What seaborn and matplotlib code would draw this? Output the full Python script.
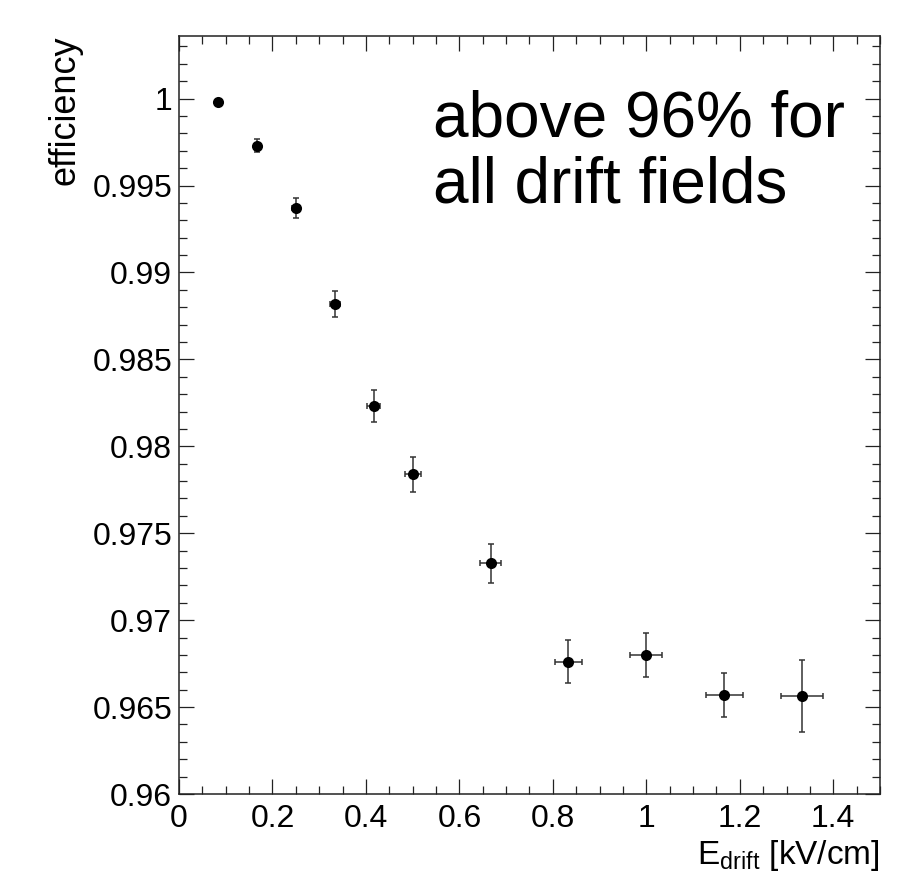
import numpy as np
import pandas as pd
import matplotlib
matplotlib.use('Agg')
import matplotlib.pyplot as plt
import seaborn as sns
from matplotlib.ticker import MultipleLocator

# drift field values (kV/cm) and measured efficiency
e_drift = [0.0833, 0.1667, 0.25, 0.3333, 0.4167, 0.5, 0.6667, 0.8333, 1.0, 1.1667, 1.3333]
e_drift_err = [0.0028, 0.0057, 0.0085, 0.011, 0.014, 0.017, 0.023, 0.028, 0.034, 0.040, 0.045]
efficiency = [0.99981, 0.99729, 0.99371, 0.98821, 0.98232, 0.97839, 0.97327,
              0.96760, 0.96800, 0.96568, 0.96562]
efficiency_err = [0.0001, 0.00037, 0.00057, 0.00075, 0.00092, 0.0010, 0.00112,
                  0.00123, 0.00125, 0.00126, 0.00208]

df = pd.DataFrame({'x': e_drift, 'xerr': e_drift_err,
                   'eff': efficiency, 'err': efficiency_err})

sns.set_style('ticks')
plt.rcParams['font.family'] = ['Liberation Sans', 'DejaVu Sans']
plt.rcParams['mathtext.fontset'] = 'custom'
plt.rcParams['mathtext.rm'] = 'Liberation Sans'
plt.rcParams['text.color'] = 'black'
plt.rcParams['axes.labelcolor'] = 'black'
plt.rcParams['xtick.labelcolor'] = 'black'
plt.rcParams['ytick.labelcolor'] = 'black'

fig = plt.figure(figsize=(9.21, 8.82), dpi=100)
ax = fig.add_axes([0.19435, 0.09977, 0.76113, 0.85941])

ax.errorbar(df['x'], df['eff'], xerr=df['xerr'], yerr=df['err'], fmt='none',
            ecolor='#333333', elinewidth=1.1, capsize=2.5, capthick=1.1, zorder=2)
sns.scatterplot(data=df, x='x', y='eff', ax=ax, color='black', s=64,
                edgecolor='black', linewidth=0, zorder=3, legend=False)

ax.set_xlim(0, 1.5)
ax.set_ylim(0.96, 1.0036)
ax.xaxis.set_major_locator(MultipleLocator(0.2))
ax.xaxis.set_minor_locator(MultipleLocator(0.05))
ax.yaxis.set_major_locator(MultipleLocator(0.005))
ax.yaxis.set_minor_locator(MultipleLocator(0.001))
ax.xaxis.set_major_formatter(plt.FuncFormatter(lambda v, p: f'{v:g}'))
ax.yaxis.set_major_formatter(plt.FuncFormatter(lambda v, p: f'{v:g}'))

ax.tick_params(which='both', direction='in', top=True, right=True,
               width=0.9, color='#222222')
ax.tick_params(which='major', length=11, labelsize=23)
ax.tick_params(which='minor', length=5.5)
ax.tick_params(axis='x', pad=7)
ax.tick_params(axis='y', pad=5)
for sp in ax.spines.values():
    sp.set_linewidth(1.1)
    sp.set_color('#222222')

ax.set_xlabel(r'E$_{\mathregular{drift}}$ [kV/cm]', fontsize=24, loc='right')
ax.xaxis.set_label_coords(1.0, -0.058)
ax.set_ylabel('efficiency', fontsize=26, loc='top')
ax.yaxis.set_label_coords(-0.138, 1.0013)

ax.text(0.362, 0.93, 'above 96% for\nall drift fields', transform=ax.transAxes,
        fontsize=46, ha='left', va='top', linespacing=1.13)

fig.savefig('out.png', dpi=100)
